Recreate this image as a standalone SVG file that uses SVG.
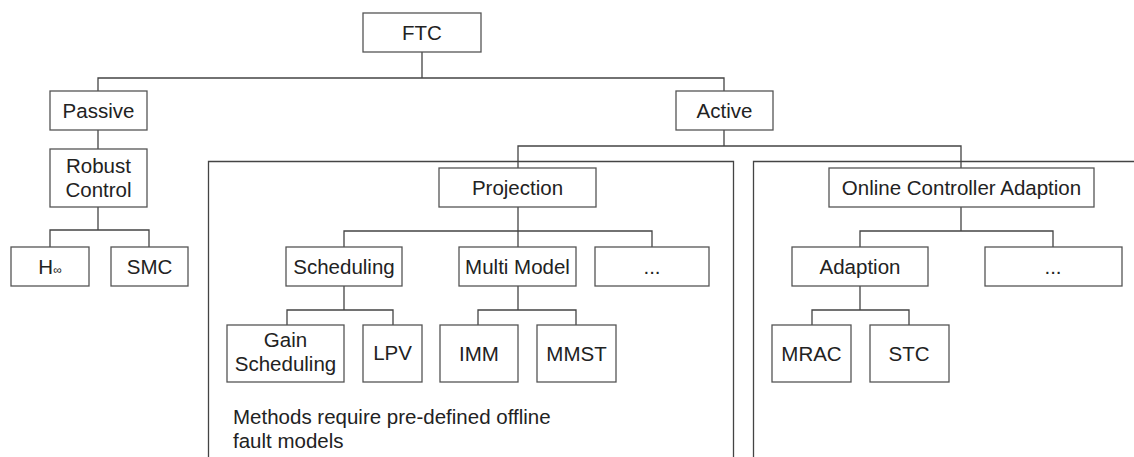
<svg xmlns="http://www.w3.org/2000/svg" width="1134" height="457" viewBox="0 0 1134 457">
<style>
.b{fill:#fff;stroke:#555;stroke-width:1.3}
.c{fill:none;stroke:#444;stroke-width:1.3}
.t{font-family:"Liberation Sans",Arial,sans-serif;font-size:20.5px;fill:#222;text-anchor:middle}
.n{font-family:"Liberation Sans",Arial,sans-serif;font-size:20.5px;fill:#222}
</style>
<rect width="1134" height="457" fill="#fff"/>
<g id="containers">
<path class="c" d="M208.5,457 V161.5 H733.5 V457" stroke="#666"/>
<path class="c" d="M753.5,457 V161.5 H1134" stroke="#666"/>
</g>
<g id="connectors">
<path class="c" d="M422,52 V78 M98,91 V78 H724 V91"/>
<path class="c" d="M98,130 V149 M98,207 V230 M50,247 V230 H149 V247"/>
<path class="c" d="M724,130 V146 M518,168 V146 H961 V168"/>
<path class="c" d="M518,207 V231 M344,247 V231 H652 V247 M518,231 V247"/>
<path class="c" d="M344,286 V310 M287,325 V310 H393 V325"/>
<path class="c" d="M518,286 V310 M478,325 V310 H576 V325"/>
<path class="c" d="M961,207 V231 M860,247 V231 H1053 V247"/>
<path class="c" d="M860,286 V310 M812,325 V310 H909 V325"/>
</g>
<g id="ftc"><rect class="b" x="363" y="13" width="118" height="39"/><text class="t" x="422" y="40">FTC</text></g>
<g id="passive"><rect class="b" x="50" y="91" width="97" height="39"/><text class="t" x="98.5" y="118">Passive</text></g>
<g id="robust"><rect class="b" x="50" y="149" width="97" height="58"/><text class="t" x="98.5" y="173">Robust</text><text class="t" x="98.5" y="197">Control</text></g>
<g id="hinf"><rect class="b" x="11" y="247" width="78" height="39"/><text class="t" x="50" y="274">H<tspan font-size="12">∞</tspan></text></g>
<g id="smc"><rect class="b" x="111" y="247" width="77" height="39"/><text class="t" x="149.5" y="274">SMC</text></g>
<g id="active"><rect class="b" x="676" y="91" width="97" height="39"/><text class="t" x="724.5" y="118">Active</text></g>
<g id="projection"><rect class="b" x="439" y="168" width="157" height="39"/><text class="t" x="517.5" y="195">Projection</text></g>
<g id="scheduling"><rect class="b" x="286" y="247" width="116" height="39"/><text class="t" x="344" y="274">Scheduling</text></g>
<g id="multimodel"><rect class="b" x="459" y="247" width="117" height="39"/><text class="t" x="517.5" y="274">Multi Model</text></g>
<g id="dots1"><rect class="b" x="595" y="247" width="114" height="39"/><text class="t" x="652" y="274">...</text></g>
<g id="gain"><rect class="b" x="227" y="325" width="117" height="57"/><text class="t" x="285.5" y="347">Gain</text><text class="t" x="285.5" y="371">Scheduling</text></g>
<g id="lpv"><rect class="b" x="363" y="325" width="59" height="57"/><text class="t" x="392.5" y="360">LPV</text></g>
<g id="imm"><rect class="b" x="440" y="325" width="78" height="57"/><text class="t" x="479" y="361">IMM</text></g>
<g id="mmst"><rect class="b" x="537" y="325" width="79" height="57"/><text class="t" x="576.5" y="361">MMST</text></g>
<g id="oca"><rect class="b" x="829" y="168" width="265" height="39"/><text class="t" x="961.5" y="195">Online Controller Adaption</text></g>
<g id="adaption"><rect class="b" x="792" y="247" width="136" height="39"/><text class="t" x="860" y="274">Adaption</text></g>
<g id="dots2"><rect class="b" x="985" y="247" width="137" height="39"/><text class="t" x="1053" y="274">...</text></g>
<g id="mrac"><rect class="b" x="772" y="325" width="79" height="57"/><text class="t" x="811.5" y="361">MRAC</text></g>
<g id="stc"><rect class="b" x="870" y="325" width="79" height="57"/><text class="t" x="909" y="361">STC</text></g>
<g id="note"><text class="n" x="233" y="424">Methods require pre-defined offline</text><text class="n" x="233" y="448">fault models</text></g>
</svg>
